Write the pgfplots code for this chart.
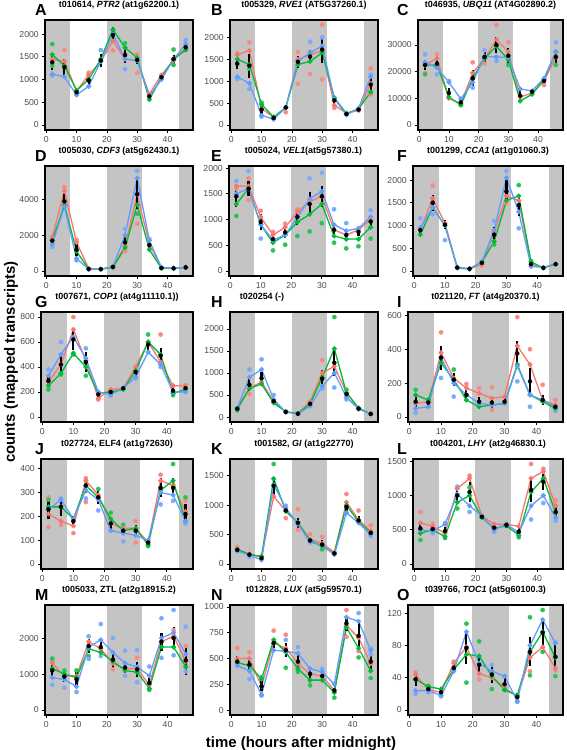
\documentclass[border=0pt]{standalone}
\usepackage{fontspec}
\setmainfont{Liberation Sans}
\usepackage{pgfplots}
\usepackage{pgfplotstable}
\pgfplotsset{compat=1.18}
\definecolor{cR}{HTML}{F8766D}
\definecolor{cG}{HTML}{00BA38}
\definecolor{cB}{HTML}{619CFF}
\definecolor{night}{gray}{0.77}
\definecolor{tickgray}{gray}{0.30}
\pgfplotsset{
  panel/.style={
    scale only axis, anchor=north west, height=110bp,
    xmin=-0.4, xmax=48.4, xtick={0,10,20,30,40},
    axis line style={line width=1.3bp, black},
    tick align=outside, major tick length=2.75bp,
    xtick pos=bottom, ytick pos=left,
    every tick/.style={black, line width=0.7bp},
    tick label style={font=\fontsize{8.7}{9}\selectfont, text=tickgray},
    /pgf/number format/assume math mode=true,
    scaled y ticks=false,
    y tick label style={/pgf/number format/.cd, fixed, 1000 sep={}},
    title style={font=\bfseries\fontsize{9}{10}\selectfont, at={(0.5,1)}, anchor=base, yshift=6.5bp},
    axis on top,
  },
  band/.style={draw=none, fill=night, mark=none, forget plot},
  lR/.style={cR, line width=1.3bp, mark=*, mark size=1.8bp},
  lG/.style={cG, line width=1.3bp, mark=*, mark size=1.8bp},
  lB/.style={cB, line width=1.3bp, mark=*, mark size=1.8bp},
  dR/.style={only marks, mark=*, mark size=2.1bp, cR!85!white},
  dG/.style={only marks, mark=*, mark size=2.1bp, cG!85!white},
  dB/.style={only marks, mark=*, mark size=2.1bp, cB!85!white},
  ebar/.style={only marks, mark=none, error bars/.cd, y dir=both, y explicit, error mark=none,
    error bar style={line width=2.1bp, draw=black}},
}
% #1 left, #2 top, #3 width, #4 ymin, #5 ymax, #6 yticks, #7 extra options, #8 table, #9 dots
\newcommand\panel[9]{%
\begin{axis}[panel, at={(#1bp,-#2bp)}, width=#3bp, ymin=#4, ymax=#5, ytick={#6}, #7]
\addplot[band] coordinates {(-5,#4) (7.9,#4) (7.9,#5) (-5,#5)};
\addplot[band] coordinates {(19.9,#4) (31.5,#4) (31.5,#5) (19.9,#5)};
\addplot[band] coordinates {(43.9,#4) (55,#4) (55,#5) (43.9,#5)};
#9
\addplot[lR] table[x=t,y=r]{#8};
\addplot[lG] table[x=t,y=g]{#8};
\addplot[lB] table[x=t,y=b]{#8};
\addplot[ebar] table[x=t,y=m,y error=e]{#8};
\end{axis}}
\newcommand\letter[3]{\node[anchor=base west, font=\bfseries\fontsize{16}{16}\selectfont, inner sep=0pt] at (#1bp,-#2bp) {#3};}

\pgfplotstableread{
t r g b m e
2 1450 1550 1120 1380 170
6 1400 1300 1060 1270 180
10 750 760 660 720 70
14 1100 1000 850 980 130
18 1400 1450 1400 1420 150
22 1850 2100 2000 1980 180
26 1450 1700 1450 1540 180
30 1420 1480 1420 1430 90
34 680 560 640 630 80
38 1100 1050 1000 1050 70
42 1420 1450 1450 1450 100
46 1700 1650 1780 1710 60
}\tA
\pgfplotstableread{
t r g b m e
2 1600 1500 1100 1400 130
6 1700 1380 950 1350 280
10 380 470 220 350 130
14 170 180 130 160 40
18 400 400 400 400 60
22 1500 1380 1450 1440 130
26 1600 1450 1650 1560 150
30 1700 1650 1800 1720 300
34 450 620 600 560 100
38 270 260 230 250 50
42 330 370 380 350 60
46 950 750 1100 920 170
}\tB
\pgfplotstableread{
t r g b m e
2 22500 22500 23500 22500 2000
6 25000 22500 21500 23000 1800
10 10000 10500 16000 12000 2000
14 8000 7500 9800 8500 1000
18 19500 17500 16000 17500 3000
22 25000 25000 25800 25500 2000
26 32000 29500 25500 30000 3000
30 27500 24500 25300 26000 3000
34 10500 9000 13500 11000 2000
38 12000 11500 12800 12500 800
42 16500 17000 17500 16500 1000
46 25500 27500 27500 25500 2500
}\tC
\pgfplotstableread{
t r g b m e
2 1900 1700 1500 1700 200
6 4500 3700 3600 3900 400
10 1600 1100 700 1200 350
14 150 100 100 110 20
18 100 100 100 100 20
22 250 200 250 230 40
26 1400 1300 2000 1600 400
30 4300 3700 5200 4300 800
34 1500 1200 1700 1450 250
38 200 150 200 170 30
42 150 150 150 150 20
46 200 200 200 200 30
}\tD
\pgfplotstableread{
t r g b m e
2 1650 1300 1500 1450 200
6 1650 1600 1600 1600 150
10 1050 900 900 950 150
14 700 550 600 620 90
18 850 700 700 750 100
22 1150 950 1050 1050 150
26 1350 1100 1400 1300 230
30 1450 1300 1550 1450 200
34 800 680 900 800 130
38 700 620 780 700 100
42 800 620 830 760 80
46 1000 850 1050 960 100
}\tE
\pgfplotstableread{
t r g b m e
2 900 800 950 900 100
6 1600 1400 1400 1500 180
10 1050 1000 1000 1020 100
14 80 70 80 75 15
18 50 40 50 50 10
22 150 200 200 180 30
26 850 650 900 800 170
30 1650 1550 2050 1750 250
34 1550 1650 1300 1450 230
38 150 200 100 150 50
42 70 70 80 70 10
46 150 150 160 150 20
}\tF
\pgfplotstableread{
t r g b m e
2 280 250 330 290 40
6 420 350 500 420 80
10 700 510 640 620 80
14 450 400 470 440 80
18 150 190 200 180 30
22 220 200 180 200 20
26 230 220 230 230 15
30 400 370 320 360 30
34 600 600 520 580 40
38 440 500 420 490 60
42 250 190 200 210 30
46 250 220 200 230 20
}\tG
\pgfplotstableread{
t r g b m e
2 200 180 200 190 30
6 650 650 900 730 150
10 800 750 1080 880 150
14 350 320 400 360 50
18 120 120 110 115 30
22 80 80 70 75 15
26 350 300 250 300 60
30 1000 900 700 870 200
34 1150 1550 1000 1230 300
38 550 550 450 520 100
42 200 200 180 190 40
46 70 70 70 70 15
}\tH
\pgfplotstableread{
t r g b m e
2 80 130 50 90 30
6 90 100 60 85 25
10 380 320 350 350 70
14 230 220 200 220 40
18 170 100 130 130 30
22 140 60 80 90 30
26 110 70 70 85 30
30 120 80 80 90 20
34 420 310 300 375 75
38 310 130 130 210 80
42 100 90 100 100 30
46 70 50 60 60 20
}\tI
\pgfplotstableread{
t r g b m e
2 210 240 230 230 40
6 180 240 270 240 40
10 160 190 190 180 20
14 350 330 310 330 30
18 290 280 270 280 30
22 170 190 140 170 25
26 150 140 130 140 20
30 150 150 120 140 25
34 90 80 100 90 15
38 350 310 300 320 40
42 330 350 290 320 40
46 220 180 180 210 40
}\tJ
\pgfplotstableread{
t r g b m e
2 250 250 220 240 30
6 170 160 150 160 25
10 120 130 70 100 30
14 1150 1450 1350 1330 150
18 900 900 950 910 50
22 700 700 680 700 90
26 420 400 370 400 50
30 350 300 320 330 70
34 200 180 160 180 20
38 1050 1000 870 970 100
42 750 720 700 740 70
46 560 530 500 530 60
}\tK
\pgfplotstableread{
t r g b m e
2 600 450 500 520 90
6 550 500 480 510 50
10 450 400 580 480 60
14 1100 900 1020 1000 80
18 1250 1000 850 1050 150
22 700 680 700 690 40
26 580 520 500 530 40
30 580 560 580 570 40
34 550 420 460 470 60
38 1250 1050 850 1080 180
42 1350 1250 1000 1200 120
46 850 750 680 760 80
}\tL
\pgfplotstableread{
t r g b m e
2 1300 1150 900 1100 250
6 950 1000 850 930 150
10 950 900 650 850 200
14 1900 1700 1750 1780 200
18 1700 1600 1950 1750 250
22 1300 1350 1600 1400 250
26 1150 1100 1300 1180 150
30 1150 1050 1200 1130 200
34 700 600 950 750 150
38 1900 1750 2000 1900 250
42 2050 1750 2150 2000 300
46 1350 1200 1550 1380 400
}\tM
\pgfplotstableread{
t r g b m e
2 500 460 430 470 50
6 500 430 380 440 70
10 230 300 150 230 50
14 650 680 580 650 50
18 600 560 570 580 70
22 450 400 550 470 70
26 350 290 400 350 50
30 330 290 370 330 40
34 190 170 250 190 20
38 820 800 900 840 70
42 700 600 860 720 120
46 450 380 580 470 80
}\tN
\pgfplotstableread{
t r g b m e
2 44 38 24 38 8
6 25 29 24 26 4
10 22 26 18 22 5
14 58 50 48 52 6
18 78 69 97 77 20
22 45 67 58 56 13
26 40 42 48 44 10
30 28 25 42 32 8
34 16 18 11 16 5
38 65 72 80 72 18
42 78 97 112 96 16
46 52 65 83 66 15
}\tO

\begin{document}
\begin{tikzpicture}
\path[use as bounding box] (0,0) rectangle (567bp,-750bp);

% Row 1
\panel{45}{20}{148}{-110}{2310}{0,500,1000,1500,2000}{title={t010614, \textit{PTR2} (at1g62200.1)}}{\tA}{%
\addplot[dR] coordinates {(6,1650) (30,1560) (30,1150) (22,1640) (14,1150)};
\addplot[dG] coordinates {(2,1780) (26,1800) (42,1660) (42,1320) (2,1300)};
\addplot[dB] coordinates {(26,1230) (46,1870) (18,1650) (2,1090)};}
\panel{230}{20}{148}{-115}{2395}{0,500,1000,1500,2000}{title={t005329, \textit{RVE1} (AT5G37260.1)}}{\tB}{%
\addplot[dR] coordinates {(2,1640) (6,1880) (22,1660) (22,940) (26,1170) (30,2290) (30,1040) (46,1290) (46,700) (34,390) (18,290)};
\addplot[dG] coordinates {(10,510) (46,750) (6,1280)};
\addplot[dB] coordinates {(2,1050) (6,820) (26,1900) (30,2000) (46,1150) (10,190)};}
\panel{418}{20}{145}{-1870}{39370}{0,10000,20000,30000}{title={t046935, \textit{UBQ11} (AT4G02890.2)}}{\tC}{%
\addplot[dR] coordinates {(6,26500) (18,23500) (26,37500) (30,31000) (42,15000) (22,23000) (2,19500)};
\addplot[dG] coordinates {(2,19000) (30,22500) (46,22500) (14,7500)};
\addplot[dB] coordinates {(2,26500) (6,19000) (10,16500) (18,14000) (26,24000) (46,31000) (22,28000)};}
% Row 2
\panel{45}{166}{148}{-280}{5880}{0,2000,4000}{title={t005030, \textit{CDF3} (at5g62430.1)}}{\tD}{%
\addplot[dR] coordinates {(6,4700) (10,1750) (26,1100) (30,2650)};
\addplot[dG] coordinates {(30,3200)};
\addplot[dB] coordinates {(2,1350) (10,600) (26,2350) (30,5600) (34,1800) (46,220)};}
\panel{229}{166}{149}{-97}{2040}{0,500,1000,1500,2000}{title={t005024, \textit{VEL1}(at5g57380.1)}}{\tE}{%
\addplot[dR] coordinates {(6,1800) (6,1380) (10,1170) (18,920) (22,1200) (2,1600) (14,760)};
\addplot[dG] coordinates {(2,1070) (14,400) (18,510) (22,680) (26,770) (30,930) (34,550) (38,440) (42,480) (46,630)};
\addplot[dB] coordinates {(2,1750) (6,1940) (10,630) (26,1800) (30,1910) (34,1200) (38,930) (46,1180)};}
\panel{413}{166}{150}{-110}{2310}{0,500,1000,1500,2000}{title={t001299, \textit{CCA1} (at1g01060.3)}}{\tF}{%
\addplot[dR] coordinates {(6,1880) (30,1500) (22,120)};
\addplot[dG] coordinates {(34,1890) (26,580) (38,220)};
\addplot[dB] coordinates {(2,1160) (6,1250) (10,680) (26,1100) (30,2200) (34,940)};}
% Row 3
\panel{41}{312}{152}{-40}{840}{0,200,400,600,800}{title={t007671, \textit{COP1} (at4g11110.1))}}{\tG}{%
\addplot[dR] coordinates {(10,800) (18,140) (38,660) (42,250) (46,255)};
\addplot[dG] coordinates {(2,220) (6,340) (10,500) (14,330) (34,660) (42,175)};
\addplot[dB] coordinates {(2,380) (6,600) (14,550) (30,310) (38,400) (22,170)};}
\panel{230}{312}{148}{-113}{2383}{0,500,1000,1500,2000}{title={t020254 (-)}, title style={xshift=-42bp}}{\tH}{%
\addplot[dR] coordinates {(6,520) (30,1290)};
\addplot[dG] coordinates {(34,2270) (38,620) (2,150)};
\addplot[dB] coordinates {(6,1080) (10,1310) (14,500) (30,640) (34,670) (38,400)};}
\panel{408}{312}{155}{-30}{620}{0,200,400,600}{title={t021120, \textit{FT} (at4g20370.1)}}{\tI}{%
\addplot[dR] coordinates {(10,500) (18,195) (22,170) (26,175) (26,40) (34,590) (38,400) (42,190) (46,100)};
\addplot[dG] coordinates {(2,160) (14,280)};
\addplot[dB] coordinates {(2,25) (10,230) (14,120) (34,210) (38,60) (46,35)};}
% Row 4
\panel{41}{459}{152}{-21}{441}{0,100,200,300,400}{title={t027724, ELF4 (at1g72630)}}{\tJ}{%
\addplot[dR] coordinates {(2,280) (2,155) (6,165) (10,130) (14,360) (14,260) (30,180) (30,90) (38,375) (46,265)};
\addplot[dG] coordinates {(2,270) (18,315) (22,215) (26,165) (34,75) (42,420) (46,280)};
\addplot[dB] coordinates {(6,275) (14,275) (18,225) (26,95) (38,250) (42,265) (46,170)};}
\panel{230}{459}{148}{-85}{1785}{0,500,1000,1500}{title={t001582, \textit{GI} (at1g22770)}}{\tK}{%
\addplot[dR] coordinates {(2,290) (18,780) (22,930) (22,580) (26,510) (30,460) (38,1190) (42,910) (46,660)};
\addplot[dG] coordinates {(14,1700) (30,250)};
\addplot[dB] coordinates {(18,990) (38,870) (46,480) (6,120)};}
\panel{413}{459}{150}{-73}{1533}{0,500,1000,1500}{title={t004201, \textit{LHY} (at2g46830.1)}}{\tL}{%
\addplot[dR] coordinates {(2,760) (6,590) (18,1290) (38,1460) (42,1390) (46,930)};
\addplot[dG] coordinates {(2,350) (10,380) (14,810) (18,1120) (34,390)};
\addplot[dB] coordinates {(6,450) (10,600) (14,1130) (18,760) (26,470) (38,650) (42,890) (46,630)};}
% Row 5
\panel{45}{605}{148}{-139}{2919}{0,1000,2000}{title={t005033, ZTL (at2g18915.2)}}{\tM}{%
\addplot[dR] coordinates {(22,1130) (30,1450) (42,2220) (46,1780) (2,1350)};
\addplot[dG] coordinates {(2,1430) (6,1100) (10,1100) (14,1500) (34,560)};
\addplot[dB] coordinates {(2,700) (6,620) (10,500) (14,2050) (14,1420) (18,2390) (18,1500) (22,2000) (26,1650) (26,950) (30,1660) (30,770) (34,1210) (38,2550) (38,1450) (42,2780) (42,1520) (46,2320) (46,1070)};}
\panel{230}{605}{148}{-48}{1018}{0,250,500,750,1000}{title={t012828, \textit{LUX} (at5g59570.1)}}{\tN}{%
\addplot[dR] coordinates {(2,600) (6,560) (14,770) (18,730) (38,970) (38,710) (42,570)};
\addplot[dG] coordinates {(10,320) (18,410) (22,370) (26,240) (34,120) (42,510) (46,310)};
\addplot[dB] coordinates {(6,300) (10,140) (18,680) (22,610) (30,400) (42,940) (46,600) (46,540)};}
\panel{408}{605}{155}{-6.2}{130.2}{0,40,80,120}{title={t039766, \textit{TOC1} (at5g60100.3)}}{\tO}{%
\addplot[dR] coordinates {(2,47) (14,60) (18,78) (22,38) (38,48) (46,49)};
\addplot[dG] coordinates {(6,30) (18,107) (18,34) (22,85) (26,26) (30,25) (38,115) (38,43) (42,124) (42,72) (46,42)};
\addplot[dB] coordinates {(2,20) (6,22) (10,17) (26,56) (30,42) (34,10) (46,84)};}

\letter{35}{15}{A}\letter{211}{15}{B}\letter{397}{15}{C}
\letter{35}{161}{D}\letter{211}{161}{E}\letter{397}{161}{F}
\letter{35}{307}{G}\letter{211}{307}{H}\letter{397}{307}{I}
\letter{35}{454}{J}\letter{211}{454}{K}\letter{397}{454}{L}
\letter{35}{600}{M}\letter{211}{600}{N}\letter{397}{600}{O}

\node[rotate=90, font=\bfseries\fontsize{15}{15}\selectfont, inner sep=0pt] at (11bp,-362bp) {counts (mapped transcripts)};
\node[anchor=base, font=\bfseries\fontsize{15}{15}\selectfont, inner sep=0pt] at (301bp,-747bp) {time (hours after midnight)};
\end{tikzpicture}
\end{document}
